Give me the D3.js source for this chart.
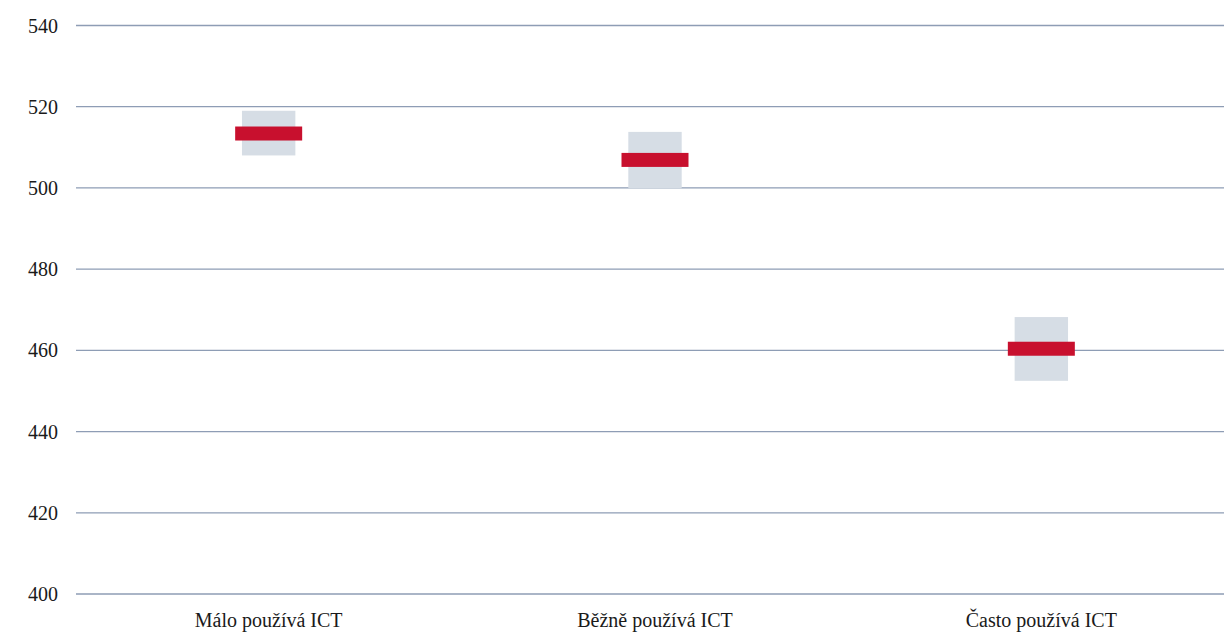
<!DOCTYPE html>
<meta charset="utf-8">
<style>
body { margin: 0; background: #fff; }
.grid line { stroke: #8e9db5; stroke-width: 1.3; }
.band { fill: #d6dde5; }
.mean { fill: #c8102e; }
</style>
<svg width="1224" height="641" font-family="'Liberation Serif', 'Times New Roman', Times, 'DejaVu Serif', serif"></svg>
<script src="https://cdn.jsdelivr.net/npm/d3@7"></script>
<script>

// data
var categories = ["Málo používá ICT", "Běžně používá ICT", "Často používá ICT"],
    means = [513.4, 506.9, 460.4],
    lower = [508.0, 499.9, 452.5],
    upper = [519.0, 513.8, 468.2],
    yTicks = [400, 420, 440, 460, 480, 500, 520, 540];

var svg = d3.select("svg"),
    left = 76,
    right = 1224;

var x = d3.scaleBand().domain(categories).range([75.5, 1234.5]),
    y = d3.scaleLinear().domain([400, 540]).range([594, 25.5]);

var boxW = 53.4, markW = 67, markH = 14;

var grid = svg.append("g").attr("class", "grid");
grid.selectAll("line")
  .data(yTicks)
  .enter().append("line")
    .attr("x1", left)
    .attr("x2", right)
    .attr("y1", function(d) { return y(d); })
    .attr("y2", function(d) { return y(d); });

svg.append("g").selectAll("text")
  .data(yTicks)
  .enter().append("text")
    .attr("x", 58)
    .attr("y", function(d) { return y(d); })
    .attr("dy", "0.35em")
    .attr("text-anchor", "end")
    .attr("fill", "#1a1a1a")
    .style("font-size", "20px")
    .text(function(d) { return d; });

var g = svg.append("g").selectAll("g")
  .data(categories)
  .enter().append("g");

g.append("rect")
    .attr("class", "band")
    .attr("x", function(d) { return x(d) + x.bandwidth() / 2 - boxW / 2; })
    .attr("y", function(d, i) { return y(upper[i]); })
    .attr("width", boxW)
    .attr("height", function(d, i) { return y(lower[i]) - y(upper[i]); });

g.append("rect")
    .attr("class", "mean")
    .attr("x", function(d) { return x(d) + x.bandwidth() / 2 - markW / 2; })
    .attr("y", function(d, i) { return y(means[i]) - markH / 2; })
    .attr("width", markW)
    .attr("height", markH);

g.append("text")
    .attr("x", function(d) { return x(d) + x.bandwidth() / 2; })
    .attr("y", 627)
    .attr("text-anchor", "middle")
    .attr("fill", "#1a1a1a")
    .style("font-size", "20px")
    .text(function(d) { return d; });

</script>
